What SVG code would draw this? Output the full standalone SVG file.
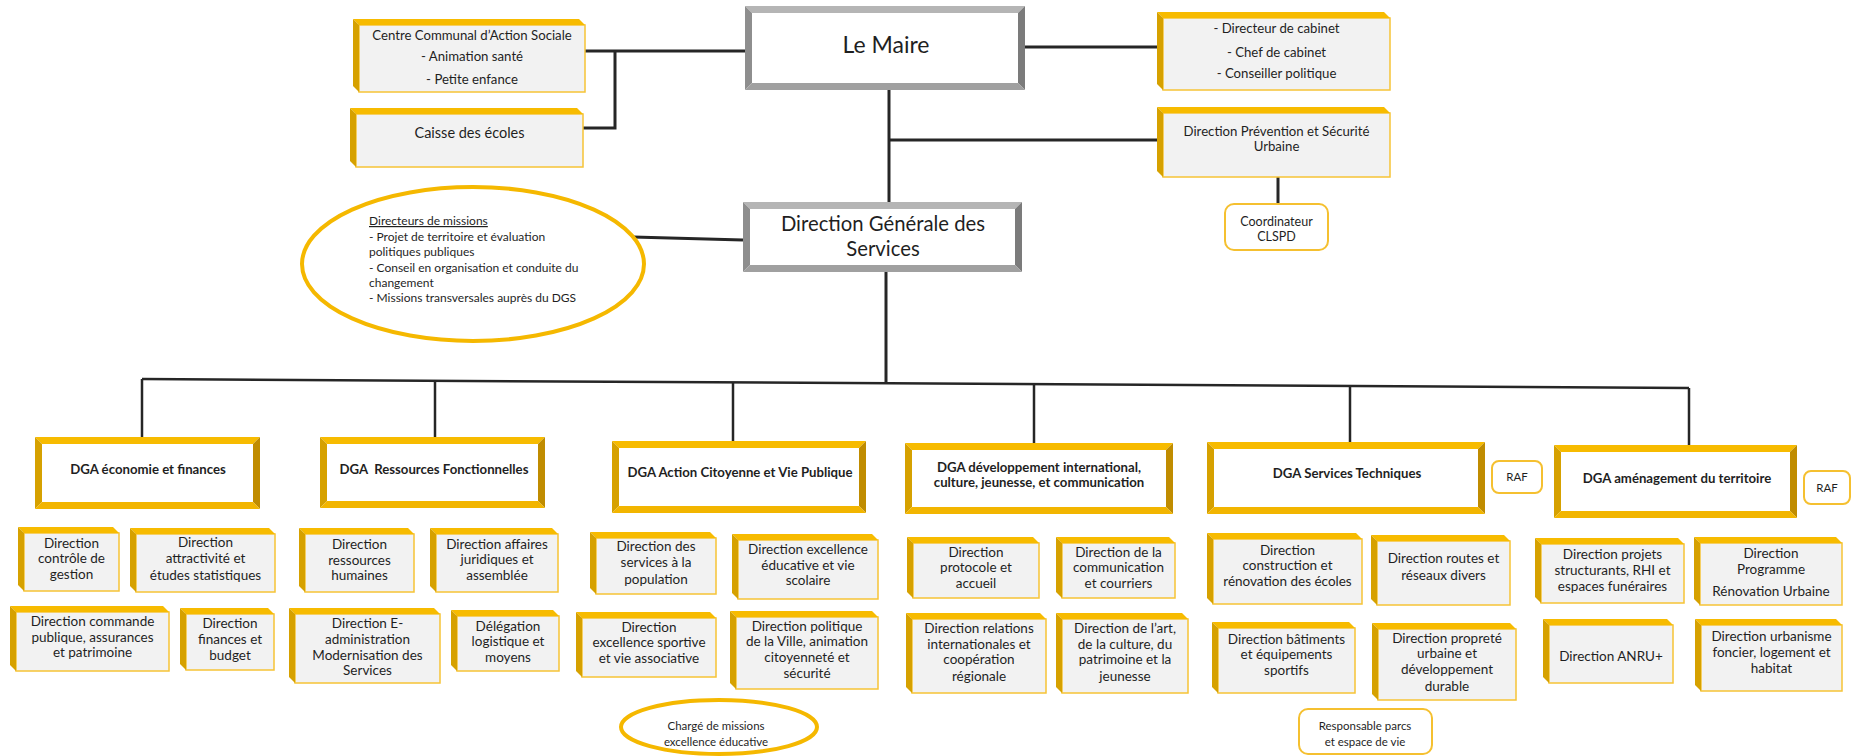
<svg xmlns="http://www.w3.org/2000/svg" width="1854" height="756" viewBox="0 0 1854 756">
  <style>
    .top{fill:#f7bb00}
    .lft{fill:#d6a100}
    .rgt{fill:#c08c00}
    .bot{fill:#f2b500}
    .face{fill:#f2f2f2;stroke:#f6c336;stroke-width:1.5}
    .inner{fill:#ffffff}
    .gtop{fill:#b5b5b5}
    .glft{fill:#8e8e8e}
    .grgt{fill:#7b7b7b}
    .gbot{fill:#a0a0a0}
    .pill{fill:#ffffff;stroke:#f5c030;stroke-width:2}
    .oval{fill:#ffffff;stroke:#f5b800;stroke-width:4}
    .ln{stroke:#262626;stroke-width:3;fill:none}
    .bus{stroke:#262626;stroke-width:2.5;fill:none}
    text{font-family:Lato,"Liberation Sans",sans-serif;fill:#1f1f1f;text-anchor:middle}
    .s{font-size:13.5px}
    .m{font-size:13.2px}
    .xs{font-size:11.5px}
    .e{font-size:12px;text-anchor:start}
    .b{font-size:13.2px;font-weight:bold}
  </style>

  <!-- connectors -->
  <g id="connectors">
    <path class="ln" d="M585,51 H745"/>
    <path class="ln" d="M615,51 V128 H583"/>
    <path class="ln" d="M1025,47 H1157"/>
    <path class="ln" d="M889,90 V202"/>
    <path class="ln" d="M889,140 H1157"/>
    <path class="ln" d="M1278,177 V204"/>
    <path class="ln" d="M633,237 L743,240"/>
    <path class="ln" d="M886,272 V383"/>
    <path class="bus" d="M142,379 L1689,388"/>
    <path class="bus" d="M142,379 V437"/>
    <path class="bus" d="M435,381 V437"/>
    <path class="bus" d="M733,382 V441"/>
    <path class="bus" d="M1034,384 V443"/>
    <path class="bus" d="M1350,386 V442"/>
    <path class="bus" d="M1689,388 V445"/>
  </g>

  <!-- top level -->
  <g id="maire">
    <rect class="inner" x="752" y="13" width="266" height="70"/>
    <polygon class="gtop" points="745,6 1025,6 1018,13 752,13"/>
    <polygon class="glft" points="745,6 752,13 752,83 745,90"/>
    <polygon class="grgt" points="1025,6 1025,90 1018,83 1018,13"/>
    <polygon class="gbot" points="745,90 752,83 1018,83 1025,90"/>
    <text x="886" y="53" style="font-size:23px">Le Maire</text>
  </g>

  <g id="ccas">
    <rect class="face" x="359" y="25" width="226" height="67"/>
    <polygon class="top" points="353,19 579,19 585,25 359,25"/>
    <polygon class="lft" points="353,19 359,25 359,92 353,86"/>
    <text class="m" x="472" y="39.6">Centre Communal d’Action Sociale</text>
    <text class="m" x="472" y="60.6">- Animation santé</text>
    <text class="m" x="472" y="83.6">- Petite enfance</text>
  </g>

  <g id="caisse-ecoles">
    <rect class="face" x="356" y="114" width="227" height="53"/>
    <polygon class="top" points="350,108 577,108 583,114 356,114"/>
    <polygon class="lft" points="350,108 356,114 356,167 350,161"/>
    <text x="469.5" y="138" style="font-size:14.5px">Caisse des écoles</text>
  </g>

  <g id="cabinet">
    <rect class="face" x="1163" y="18" width="227" height="72"/>
    <polygon class="top" points="1157,12 1384,12 1390,18 1163,18"/>
    <polygon class="lft" points="1157,12 1163,18 1163,90 1157,84"/>
    <text class="m" x="1276.5" y="32.6">- Directeur de cabinet</text>
    <text class="m" x="1276.5" y="56.6">- Chef de cabinet</text>
    <text class="m" x="1276.5" y="77.6">- Conseiller politique</text>
  </g>

  <g id="prevention">
    <rect class="face" x="1163" y="113" width="227" height="64"/>
    <polygon class="top" points="1157,107 1384,107 1390,113 1163,113"/>
    <polygon class="lft" points="1157,107 1163,113 1163,177 1157,171"/>
    <text class="m" x="1276.5" y="135.6">Direction Prévention et Sécurité</text>
    <text class="m" x="1276.5" y="150.6">Urbaine</text>
  </g>

  <g id="clspd">
    <rect class="pill" x="1225" y="204" width="103" height="46" rx="9"/>
    <text x="1276.5" y="226.3" style="font-size:12.5px">Coordinateur</text>
    <text x="1276.5" y="241.3" style="font-size:12.5px">CLSPD</text>
  </g>

  <g id="missions">
    <ellipse class="oval" cx="473" cy="264" rx="171" ry="77"/>
    <text class="e" x="369" y="225" text-decoration="underline">Directeurs de missions</text>
    <text class="e" x="369" y="240.5">- Projet de territoire et évaluation</text>
    <text class="e" x="369" y="256">politiques publiques</text>
    <text class="e" x="369" y="271.5">- Conseil en organisation et conduite du</text>
    <text class="e" x="369" y="287">changement</text>
    <text class="e" x="369" y="302">- Missions transversales auprès du DGS</text>
  </g>

  <g id="dgs">
    <rect class="inner" x="750" y="209" width="265" height="56"/>
    <polygon class="gtop" points="743,202 1022,202 1015,209 750,209"/>
    <polygon class="glft" points="743,202 750,209 750,265 743,272"/>
    <polygon class="grgt" points="1022,202 1022,272 1015,265 1015,209"/>
    <polygon class="gbot" points="743,272 750,265 1015,265 1022,272"/>
    <text x="883" y="230.5" style="font-size:20.3px">Direction Générale des</text>
    <text x="883" y="255.5" style="font-size:20.3px">Services</text>
  </g>

  <!-- DGA row -->
  <g id="dga-eco">
    <rect class="inner" x="42" y="444" width="211" height="58"/>
    <polygon class="top" points="35,437 260,437 253,444 42,444"/>
    <polygon class="lft" points="35,437 42,444 42,502 35,509"/>
    <polygon class="rgt" points="260,437 260,509 253,502 253,444"/>
    <polygon class="bot" points="35,509 42,502 253,502 260,509"/>
    <text class="b" x="148" y="473.6">DGA économie et finances</text>
  </g>

  <g id="dga-rf">
    <rect class="inner" x="327" y="444" width="211" height="57"/>
    <polygon class="top" points="320,437 545,437 538,444 327,444"/>
    <polygon class="lft" points="320,437 327,444 327,501 320,508"/>
    <polygon class="rgt" points="545,437 545,508 538,501 538,444"/>
    <polygon class="bot" points="320,508 327,501 538,501 545,508"/>
    <text class="b" x="434" y="473.6" xml:space="preserve">DGA  Ressources Fonctionnelles</text>
  </g>

  <g id="dga-acvp">
    <rect class="inner" x="619" y="448" width="240" height="58"/>
    <polygon class="top" points="612,441 866,441 859,448 619,448"/>
    <polygon class="lft" points="612,441 619,448 619,506 612,513"/>
    <polygon class="rgt" points="866,441 866,513 859,506 859,448"/>
    <polygon class="bot" points="612,513 619,506 859,506 866,513"/>
    <text class="b" x="740" y="476.6">DGA Action Citoyenne et Vie Publique</text>
  </g>

  <g id="dga-dev">
    <rect class="inner" x="912" y="450" width="254" height="57"/>
    <polygon class="top" points="905,443 1173,443 1166,450 912,450"/>
    <polygon class="lft" points="905,443 912,450 912,507 905,514"/>
    <polygon class="rgt" points="1173,443 1173,514 1166,507 1166,450"/>
    <polygon class="bot" points="905,514 912,507 1166,507 1173,514"/>
    <text class="b" x="1039" y="471.6">DGA développement international,</text>
    <text class="b" x="1039" y="486.6">culture, jeunesse, et communication</text>
  </g>

  <g id="dga-st">
    <rect class="inner" x="1214" y="449" width="264" height="58"/>
    <polygon class="top" points="1207,442 1485,442 1478,449 1214,449"/>
    <polygon class="lft" points="1207,442 1214,449 1214,507 1207,514"/>
    <polygon class="rgt" points="1485,442 1485,514 1478,507 1478,449"/>
    <polygon class="bot" points="1207,514 1214,507 1478,507 1485,514"/>
    <text class="b" x="1347" y="477.6">DGA Services Techniques</text>
  </g>

  <g id="raf-st">
    <rect class="pill" x="1492" y="461" width="50" height="32" rx="7"/>
    <text class="xs" x="1517" y="481">RAF</text>
  </g>

  <g id="dga-amt">
    <rect class="inner" x="1561" y="452" width="229" height="59"/>
    <polygon class="top" points="1554,445 1797,445 1790,452 1561,452"/>
    <polygon class="lft" points="1554,445 1561,452 1561,511 1554,518"/>
    <polygon class="rgt" points="1797,445 1797,518 1790,511 1790,452"/>
    <polygon class="bot" points="1554,518 1561,511 1790,511 1797,518"/>
    <text class="b" x="1677" y="482.6">DGA aménagement du territoire</text>
  </g>

  <g id="raf-amt">
    <rect class="pill" x="1804" y="471" width="46" height="33" rx="7"/>
    <text class="xs" x="1827" y="492">RAF</text>
  </g>

  <!-- directions -->
  <g id="d-controle">
    <rect class="face" x="24" y="533" width="95" height="58"/>
    <polygon class="top" points="18,527 113,527 119,533 24,533"/>
    <polygon class="lft" points="18,527 24,533 24,591 18,585"/>
    <text class="s" x="71.5" y="547.5">Direction</text>
    <text class="s" x="71.5" y="562.5">contrôle de</text>
    <text class="s" x="71.5" y="578.5">gestion</text>
  </g>

  <g id="d-attractivite">
    <rect class="face" x="136" y="534" width="139" height="58"/>
    <polygon class="top" points="130,528 269,528 275,534 136,534"/>
    <polygon class="lft" points="130,528 136,534 136,592 130,586"/>
    <text class="s" x="205.5" y="546.5">Direction</text>
    <text class="s" x="205.5" y="562.5">attractivité et</text>
    <text class="s" x="205.5" y="579.5">études statistiques</text>
  </g>

  <g id="d-commande">
    <rect class="face" x="16" y="612" width="153" height="59"/>
    <polygon class="top" points="10,606 163,606 169,612 16,612"/>
    <polygon class="lft" points="10,606 16,612 16,671 10,665"/>
    <text class="s" x="92.5" y="625.5">Direction commande</text>
    <text class="s" x="92.5" y="641.5">publique, assurances</text>
    <text class="s" x="92.5" y="656.5">et patrimoine</text>
  </g>

  <g id="d-finances">
    <rect class="face" x="186" y="614" width="88" height="56"/>
    <polygon class="top" points="180,608 268,608 274,614 186,614"/>
    <polygon class="lft" points="180,608 186,614 186,670 180,664"/>
    <text class="s" x="230" y="627.5">Direction</text>
    <text class="s" x="230" y="643.5">finances et</text>
    <text class="s" x="230" y="659.5">budget</text>
  </g>

  <g id="d-rh">
    <rect class="face" x="305" y="534" width="109" height="58"/>
    <polygon class="top" points="299,528 408,528 414,534 305,534"/>
    <polygon class="lft" points="299,528 305,534 305,592 299,586"/>
    <text class="s" x="359.5" y="548.5">Direction</text>
    <text class="s" x="359.5" y="564.5">ressources</text>
    <text class="s" x="359.5" y="579.5">humaines</text>
  </g>

  <g id="d-juridiques">
    <rect class="face" x="436" y="534" width="122" height="58"/>
    <polygon class="top" points="430,528 552,528 558,534 436,534"/>
    <polygon class="lft" points="430,528 436,534 436,592 430,586"/>
    <text class="s" x="497" y="548.5">Direction affaires</text>
    <text class="s" x="497" y="563.5">juridiques et</text>
    <text class="s" x="497" y="579.5">assemblée</text>
  </g>

  <g id="d-eadmin">
    <rect class="face" x="295" y="614" width="145" height="69"/>
    <polygon class="top" points="289,608 434,608 440,614 295,614"/>
    <polygon class="lft" points="289,608 295,614 295,683 289,677"/>
    <text class="s" x="367.5" y="627.5">Direction E-</text>
    <text class="s" x="367.5" y="643.5">administration</text>
    <text class="s" x="367.5" y="659.5">Modernisation des</text>
    <text class="s" x="367.5" y="674.5">Services</text>
  </g>

  <g id="d-logistique">
    <rect class="face" x="457" y="616" width="102" height="55"/>
    <polygon class="top" points="451,610 553,610 559,616 457,616"/>
    <polygon class="lft" points="451,610 457,616 457,671 451,665"/>
    <text class="s" x="508" y="630.5">Délégation</text>
    <text class="s" x="508" y="645.5">logistique et</text>
    <text class="s" x="508" y="661.5">moyens</text>
  </g>

  <g id="d-population">
    <rect class="face" x="596" y="538" width="120" height="56"/>
    <polygon class="top" points="590,532 710,532 716,538 596,538"/>
    <polygon class="lft" points="590,532 596,538 596,594 590,588"/>
    <text class="s" x="656" y="550.5">Direction des</text>
    <text class="s" x="656" y="566.5">services à la</text>
    <text class="s" x="656" y="583.5">population</text>
  </g>

  <g id="d-educative">
    <rect class="face" x="738" y="540" width="140" height="59"/>
    <polygon class="top" points="732,534 872,534 878,540 738,540"/>
    <polygon class="lft" points="732,534 738,540 738,599 732,593"/>
    <text class="s" x="808" y="553.5">Direction excellence</text>
    <text class="s" x="808" y="569.5">éducative et vie</text>
    <text class="s" x="808" y="584.5">scolaire</text>
  </g>

  <g id="d-sportive">
    <rect class="face" x="582" y="618" width="134" height="59"/>
    <polygon class="top" points="576,612 710,612 716,618 582,618"/>
    <polygon class="lft" points="576,612 582,618 582,677 576,671"/>
    <text class="s" x="649" y="631.5">Direction</text>
    <text class="s" x="649" y="646.5">excellence sportive</text>
    <text class="s" x="649" y="662.5">et vie associative</text>
  </g>

  <g id="d-politique-ville">
    <rect class="face" x="736" y="617" width="142" height="72"/>
    <polygon class="top" points="730,611 872,611 878,617 736,617"/>
    <polygon class="lft" points="730,611 736,617 736,689 730,683"/>
    <text class="s" x="807" y="630.5">Direction politique</text>
    <text class="s" x="807" y="645.5">de la Ville, animation</text>
    <text class="s" x="807" y="661.5">citoyenneté et</text>
    <text class="s" x="807" y="677.5">sécurité</text>
  </g>

  <g id="chm-educ">
    <ellipse class="oval" cx="719" cy="727" rx="98" ry="27"/>
    <text class="xs" x="716" y="730">Chargé de missions</text>
    <text class="xs" x="716" y="746">excellence éducative</text>
  </g>

  <g id="d-protocole">
    <rect class="face" x="913" y="543" width="126" height="55"/>
    <polygon class="top" points="907,537 1033,537 1039,543 913,543"/>
    <polygon class="lft" points="907,537 913,543 913,598 907,592"/>
    <text class="s" x="976" y="556.5">Direction</text>
    <text class="s" x="976" y="571.5">protocole et</text>
    <text class="s" x="976" y="587.5">accueil</text>
  </g>

  <g id="d-communication">
    <rect class="face" x="1062" y="543" width="113" height="55"/>
    <polygon class="top" points="1056,537 1169,537 1175,543 1062,543"/>
    <polygon class="lft" points="1056,537 1062,543 1062,598 1056,592"/>
    <text class="s" x="1118.5" y="556.5">Direction de la</text>
    <text class="s" x="1118.5" y="571.5">communication</text>
    <text class="s" x="1118.5" y="587.5">et courriers</text>
  </g>

  <g id="d-relations-intl">
    <rect class="face" x="912" y="619" width="134" height="74"/>
    <polygon class="top" points="906,613 1040,613 1046,619 912,619"/>
    <polygon class="lft" points="906,613 912,619 912,693 906,687"/>
    <text class="s" x="979" y="632.5">Direction relations</text>
    <text class="s" x="979" y="648.5">internationales et</text>
    <text class="s" x="979" y="663.5">coopération</text>
    <text class="s" x="979" y="680.5">régionale</text>
  </g>

  <g id="d-art-culture">
    <rect class="face" x="1062" y="619" width="126" height="74"/>
    <polygon class="top" points="1056,613 1182,613 1188,619 1062,619"/>
    <polygon class="lft" points="1056,613 1062,619 1062,693 1056,687"/>
    <text class="s" x="1125" y="632.5">Direction de l’art,</text>
    <text class="s" x="1125" y="648.5">de la culture, du</text>
    <text class="s" x="1125" y="663.5">patrimoine et la</text>
    <text class="s" x="1125" y="680.5">jeunesse</text>
  </g>

  <g id="d-construction">
    <rect class="face" x="1213" y="539" width="149" height="65"/>
    <polygon class="top" points="1207,533 1356,533 1362,539 1213,539"/>
    <polygon class="lft" points="1207,533 1213,539 1213,604 1207,598"/>
    <text class="s" x="1287.5" y="554.5">Direction</text>
    <text class="s" x="1287.5" y="569.5">construction et</text>
    <text class="s" x="1287.5" y="585.5">rénovation des écoles</text>
  </g>

  <g id="d-routes">
    <rect class="face" x="1377" y="541" width="133" height="64"/>
    <polygon class="top" points="1371,535 1504,535 1510,541 1377,541"/>
    <polygon class="lft" points="1371,535 1377,541 1377,605 1371,599"/>
    <text class="s" x="1443.5" y="562.5">Direction routes et</text>
    <text class="s" x="1443.5" y="579.5">réseaux divers</text>
  </g>

  <g id="d-batiments">
    <rect class="face" x="1218" y="628" width="137" height="65"/>
    <polygon class="top" points="1212,622 1349,622 1355,628 1218,628"/>
    <polygon class="lft" points="1212,622 1218,628 1218,693 1212,687"/>
    <text class="s" x="1286.5" y="643.5">Direction bâtiments</text>
    <text class="s" x="1286.5" y="658.5">et équipements</text>
    <text class="s" x="1286.5" y="674.5">sportifs</text>
  </g>

  <g id="d-proprete">
    <rect class="face" x="1378" y="629" width="138" height="71"/>
    <polygon class="top" points="1372,623 1510,623 1516,629 1378,629"/>
    <polygon class="lft" points="1372,623 1378,629 1378,700 1372,694"/>
    <text class="s" x="1447" y="642.5">Direction propreté</text>
    <text class="s" x="1447" y="657.5">urbaine et</text>
    <text class="s" x="1447" y="673.5">développement</text>
    <text class="s" x="1447" y="690.5">durable</text>
  </g>

  <g id="resp-parcs">
    <rect class="pill" x="1299" y="709" width="133" height="45" rx="9"/>
    <text class="xs" x="1365" y="730">Responsable parcs</text>
    <text class="xs" x="1365" y="746">et espace de vie</text>
  </g>

  <g id="d-projets">
    <rect class="face" x="1541" y="544" width="143" height="59"/>
    <polygon class="top" points="1535,538 1678,538 1684,544 1541,544"/>
    <polygon class="lft" points="1535,538 1541,544 1541,603 1535,597"/>
    <text class="s" x="1612.5" y="558.5">Direction projets</text>
    <text class="s" x="1612.5" y="574.5">structurants, RHI et</text>
    <text class="s" x="1612.5" y="590.5">espaces funéraires</text>
  </g>

  <g id="d-pru">
    <rect class="face" x="1700" y="543" width="142" height="62"/>
    <polygon class="top" points="1694,537 1836,537 1842,543 1700,543"/>
    <polygon class="lft" points="1694,537 1700,543 1700,605 1694,599"/>
    <text class="s" x="1771" y="557.5">Direction</text>
    <text class="s" x="1771" y="573.5">Programme</text>
    <text class="s" x="1771" y="595.5">Rénovation Urbaine</text>
  </g>

  <g id="d-anru">
    <rect class="face" x="1549" y="625" width="124" height="58"/>
    <polygon class="top" points="1543,619 1667,619 1673,625 1549,625"/>
    <polygon class="lft" points="1543,619 1549,625 1549,683 1543,677"/>
    <text class="s" x="1611" y="660.5">Direction ANRU+</text>
  </g>

  <g id="d-urbanisme">
    <rect class="face" x="1701" y="625" width="141" height="66"/>
    <polygon class="top" points="1695,619 1836,619 1842,625 1701,625"/>
    <polygon class="lft" points="1695,619 1701,625 1701,691 1695,685"/>
    <text class="s" x="1771.5" y="640.5">Direction urbanisme</text>
    <text class="s" x="1771.5" y="656.5">foncier, logement et</text>
    <text class="s" x="1771.5" y="672.5">habitat</text>
  </g>
</svg>
